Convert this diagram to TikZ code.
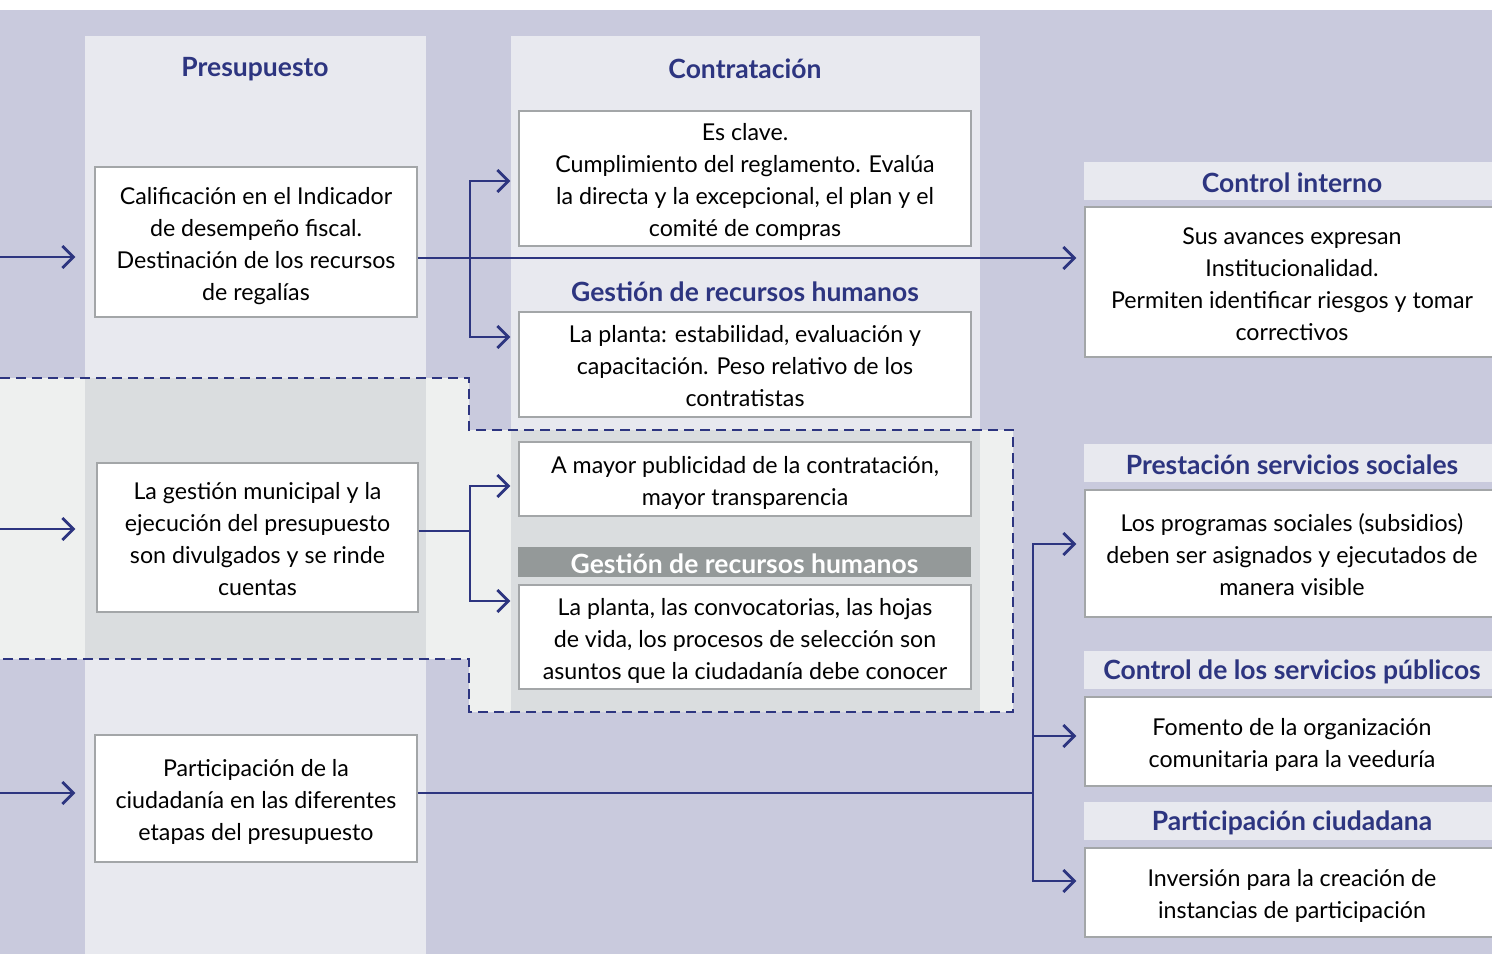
\documentclass[tikz,border=0pt]{standalone}
\usepackage{fontspec}
\setmainfont{Lato}
\usetikzlibrary{arrows.meta}
\definecolor{lav}{HTML}{C9CADD}
\definecolor{colbg}{HTML}{E8E9EF}
\definecolor{dgray}{HTML}{DADDDF}
\definecolor{lgray}{HTML}{EEF0EF}
\definecolor{barg}{HTML}{949999}
\definecolor{navy}{HTML}{2D3580}
\definecolor{bord}{HTML}{A3A6A8}
\newcommand\bodyfont{\fontsize{23.2}{32}\selectfont}
\newcommand\ttlfont{\fontsize{26.5}{30}\selectfont\bfseries}
\newcommand\bt[1]{\raisebox{-4pt}[\height][\depth]{\begin{tabular}{@{}c@{}}#1\end{tabular}}}
\newcommand\lowt[1]{\raisebox{-2pt}[\height][\depth]{#1}}
\tikzset{
  box/.style={draw=bord, line width=1.3pt, fill=white, font=\bodyfont, inner sep=0pt},
  ttl/.style={font=\ttlfont, text=navy, inner sep=0pt, anchor=center},
  band/.style={fill=colbg, draw=none, font=\ttlfont, text=navy, inner sep=0pt},
  conn/.style={draw=navy, line width=2.8pt, line join=miter},
  arr/.style={conn, -{Straight Barb[length=11pt,width=22pt,line width=2.8pt]}, shorten >=8pt},
  darr/.style={conn, {Straight Barb[length=11pt,width=22pt,line width=2.8pt]}-{Straight Barb[length=11pt,width=22pt,line width=2.8pt]}, shorten >=8pt, shorten <=8pt},
  dashbox/.style={draw=navy, line width=2.8pt, dash pattern=on 10pt off 6pt}
}
\begin{document}
\begin{tikzpicture}[x=1pt,y=-1pt]
\useasboundingbox (0,0) rectangle (1492,954);
\clip (0,0) rectangle (1492,954);
% backgrounds
\fill[white] (0,0) rectangle (1492,954);
\fill[lav] (0,10) rectangle (1492,954);
\fill[lgray] (0,378) -- (469,378) -- (469,430) -- (1013,430) -- (1013,712) -- (469,712) -- (469,659) -- (0,659) -- cycle;
\fill[colbg] (85,36) rectangle (426,378);
\fill[dgray] (85,378) rectangle (426,659);
\fill[colbg] (85,659) rectangle (426,954);
\fill[colbg] (511,36) rectangle (980,430);
\fill[dgray] (511,430) rectangle (980,712);
\draw[dashbox] (0,378) -- (469,378) -- (469,430) -- (1013,430) -- (1013,712) -- (469,712) -- (469,659) -- (0,659);
% column titles
\node[ttl] (tPres) at (255,69) {Presupuesto};
\node[ttl] (tCont) at (745,69) {Contratación};
\node[ttl] (tGes1) at (745,292) {Gestión de recursos humanos};
\node[fill=barg, font=\ttlfont, text=white, inner sep=0pt, minimum width=453pt, minimum height=30pt] (tGes2) at (744.5,562) {\lowt{Gestión de recursos humanos}};
% left boxes
\node[box, minimum width=322pt, minimum height=150pt] (calif) at (256,242) {\bt{Calificación en el Indicador\\de desempeño fiscal.\\Destinación de los recursos\\de regalías}};
\node[box, minimum width=321pt, minimum height=149pt] (gestion) at (257.5,537.5) {\bt{La gestión municipal y la\\ejecución del presupuesto\\son divulgados y se rinde\\cuentas}};
\node[box, minimum width=322pt, minimum height=127pt] (partic) at (256,798.5) {\bt{Participación de la\\ciudadanía en las diferentes\\etapas del presupuesto}};
% middle boxes
\node[box, minimum width=452pt, minimum height=135pt] (esclave) at (745,178.5) {\bt{Es clave.\\Cumplimiento del reglamento. Evalúa\\la directa y la excepcional, el plan y el\\comité de compras}};
\node[box, minimum width=452pt, minimum height=105pt] (planta1) at (745,364.5) {\bt{La planta: estabilidad, evaluación y\\capacitación. Peso relativo de los\\contratistas}};
\node[box, minimum width=452pt, minimum height=74pt] (mayor) at (745,479) {\bt{A mayor publicidad de la contratación,\\mayor transparencia}};
\node[box, minimum width=452pt, minimum height=104pt] (planta2) at (745,637) {\bt{La planta, las convocatorias, las hojas\\de vida, los procesos de selección son\\asuntos que la ciudadanía debe conocer}};
% right bands and boxes
\node[band, minimum width=416pt, minimum height=38pt] (bCI) at (1292,181) {\lowt{Control interno}};
\node[box, minimum width=414pt, minimum height=150pt] (ci) at (1292,282) {\bt{Sus avances expresan\\Institucionalidad.\\Permiten identificar riesgos y tomar\\correctivos}};
\node[band, minimum width=416pt, minimum height=38pt] (bPS) at (1292,463) {\lowt{Prestación servicios sociales}};
\node[box, minimum width=414pt, minimum height=127pt] (ps) at (1292,553.5) {\bt{Los programas sociales (subsidios)\\deben ser asignados y ejecutados de\\manera visible}};
\node[band, minimum width=416pt, minimum height=38pt] (bCS) at (1292,670) {\lowt{Control de los servicios públicos}};
\node[box, minimum width=414pt, minimum height=89pt] (cs) at (1292,741.5) {\bt{Fomento de la organización\\comunitaria para la veeduría}};
\node[band, minimum width=416pt, minimum height=38pt] (bPC) at (1292,821) {\lowt{Participación ciudadana}};
\node[box, minimum width=414pt, minimum height=89pt] (pc) at (1292,892.5) {\bt{Inversión para la creación de\\instancias de participación}};
% connector coordinates
\coordinate (inA) at (0,257);
\coordinate (inB) at (0,529);
\coordinate (inC) at (0,793);
\coordinate (jA) at (470,258);
\coordinate (bA1) at (470,181);
\coordinate (bA2) at (470,337);
\coordinate (jB) at (470,531);
\coordinate (bB1) at (470,486);
\coordinate (bB2) at (470,601);
\coordinate (jC) at (1033,793);
\coordinate (bC1) at (1033,544);
\coordinate (bCm) at (1033,736);
\coordinate (bC2) at (1033,881);
% incoming arrows
\draw[arr, shorten >=19pt] (inA) -- (inA -| calif.west);
\draw[arr, shorten >=21pt] (inB) -- (inB -| gestion.west);
\draw[arr, shorten >=19pt] (inC) -- (inC -| partic.west);
% branch A
\draw[arr] (calif.east |- jA) -- (jA -| ci.west);
\draw[darr] (bA1 -| esclave.west) -- (bA1) -- (bA2) -- (bA2 -| planta1.west);
% branch B
\draw[conn] (gestion.east |- jB) -- (jB);
\draw[darr] (bB1 -| mayor.west) -- (bB1) -- (bB2) -- (bB2 -| planta2.west);
% branch C
\draw[conn] (partic.east |- jC) -- (jC);
\draw[darr] (bC1 -| ps.west) -- (bC1) -- (bC2) -- (bC2 -| pc.west);
\draw[arr] (bCm) -- (bCm -| cs.west);
\end{tikzpicture}
\end{document}
